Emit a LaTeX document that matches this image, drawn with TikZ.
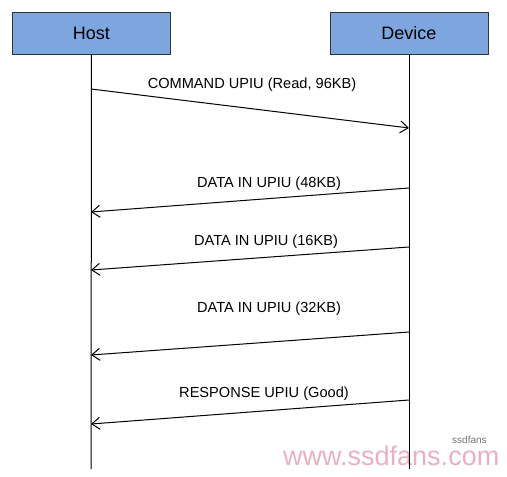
\documentclass[tikz,border=0pt]{standalone}
\usepackage{fontspec}
\setmainfont{Liberation Sans}
\usetikzlibrary{arrows.meta,positioning}
\definecolor{boxblue}{RGB}{125,166,222}
\definecolor{markpink}{RGB}{234,176,192}
\begin{document}
\begin{tikzpicture}
	[
		x                = 1pt,
		y                = -1pt,
		lifebox/.style   = {draw=black!80, fill=boxblue, line width=1pt,
		                    minimum width=158pt, minimum height=42pt, inner sep=0pt,
		                    font=\fontsize{18}{20}\selectfont},
		lifeline/.style  = {draw, line width=1pt},
		msg/.style       = {draw, line width=1pt, -{Straight Barb[length=8pt,width=12pt]}},
		msglabel/.style  = {anchor=base, inner sep=0pt, font=\fontsize{14.6}{16}\selectfont}
	]
	\useasboundingbox (0,0) rectangle (507,477);
	% watermark
	\node [anchor=base west, inner sep=0pt, text=markpink, font=\fontsize{27}{30}\selectfont]
		(mark) at (283,465) {www.ssdfans.com};
	\node [anchor=base west, inner sep=0pt, text=black!55, font=\fontsize{10}{11}\selectfont]
		(markname) at (452,443) {ssdfans};
	% participants
	\node [lifebox] (host)   at (91.5,33) {Host};
	\node [lifebox] (device) at (409,33)  {Device};
	\coordinate (host end)   at (91,469);
	\coordinate (device end) at (409,469);
	\draw [lifeline] (host.south)   -- (host end);
	\draw [lifeline] (device.south) -- (device end);
	% message end points
	\coordinate (h1) at (91,89);   \coordinate (d1) at (409,128);
	\coordinate (d2) at (409,188); \coordinate (h2) at (91,212);
	\coordinate (d3) at (409,247); \coordinate (h3) at (91,270);
	\coordinate (d4) at (409,332); \coordinate (h4) at (91,355);
	\coordinate (d5) at (409,400); \coordinate (h5) at (91,424);
	% messages
	\draw [msg] (h1) -- (d1);
	\draw [msg] (d2) -- (h2);
	\draw [msg] (d3) -- (h3);
	\draw [msg] (d4) -- (h4);
	\draw [msg] (d5) -- (h5);
	\node [msglabel] (cmd)   at (252,88.5) {COMMAND UPIU (Read, 96KB)};
	\node [msglabel] (data1) at (269,187)  {DATA IN UPIU (48KB)};
	\node [msglabel] (data2) at (266,245)  {DATA IN UPIU (16KB)};
	\node [msglabel] (data3) at (269,312)  {DATA IN UPIU (32KB)};
	\node [msglabel] (resp)  at (264,397)  {RESPONSE UPIU (Good)};
\end{tikzpicture}
\end{document}
